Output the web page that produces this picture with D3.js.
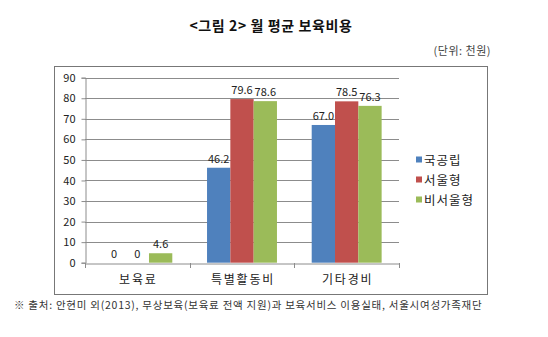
<!DOCTYPE html>
<html><head><meta charset="utf-8">
<script src="https://cdn.jsdelivr.net/npm/d3@7"></script>
<style>body{margin:0;background:#fff;}svg{display:block;}</style>
</head><body>
<script>
const categories = ["보육료", "특별활동비", "기타경비"];
const seriesNames = ["국공립", "서울형", "비서울형"];
const seriesColors = ["#4F81BD", "#C0504D", "#9BBB59"];
const publicVals = [0, 46.2, 67.0];
const seoulVals = [0, 79.6, 78.5];
const nonSeoulVals = [4.6, 78.6, 76.3];
const valueLabels = [["0", "46.2", "67.0"], ["0", "79.6", "78.5"], ["4.6", "78.6", "76.3"]];
const yTicks = [0, 10, 20, 30, 40, 50, 60, 70, 80, 90];
const titleText = "<그림 2> 월 평균 보육비용";
const unitText = "(단위: 천원)";
const sourceText = "※ 출처: 안현미 외(2013), 무상보육(보육료 전액 지원)과 보육서비스 이용실태, 서울시여성가족재단";

const series = [publicVals, seoulVals, nonSeoulVals];
const W = 548, H = 337;
const font = "'Noto Sans CJK KR', 'Noto Sans', sans-serif";
const svg = d3.select("body").append("svg").attr("width", W).attr("height", H);

// title
svg.append("text").attr("x", 271).attr("y", 31).attr("text-anchor", "middle")
  .attr("font-family", font).attr("font-weight", "bold").attr("font-size", 14).attr("letter-spacing", 0.6).attr("fill", "#111")
  .text(titleText);
svg.append("text").attr("x", 491).attr("y", 55).attr("text-anchor", "end")
  .attr("font-family", font).attr("font-size", 11).attr("letter-spacing", 0.5).attr("fill", "#444")
  .text(unitText);

// frame
svg.append("rect").attr("x", 54.5).attr("y", 66.5).attr("width", 433).attr("height", 228)
  .attr("fill", "#fff").attr("stroke", "#777").attr("stroke-width", 1);

const x0 = d3.scaleBand().domain(categories).range([85, 399]).paddingInner(0).paddingOuter(0);
const x1 = d3.scaleBand().domain(d3.range(3)).range([0, x0.bandwidth()]).paddingInner(0).paddingOuter(0.745);
const y = d3.scaleLinear().domain([0, 90]).range([262.7, 77.7]);

// gridlines
svg.append("g").selectAll("line").data(yTicks.filter(d => d > 0)).join("line")
  .attr("x1", 85).attr("x2", 399)
  .attr("y1", d => Math.round(y(d)) + 0.5).attr("y2", d => Math.round(y(d)) + 0.5)
  .attr("stroke", "#8c8c8c").attr("stroke-width", 1);

// y axis
const yAxis = svg.append("g").attr("transform", "translate(85.5,0)")
  .call(d3.axisLeft(y).tickValues(yTicks).tickSize(4).tickPadding(6));
yAxis.select(".domain").attr("stroke", "#8c8c8c");
yAxis.selectAll(".tick line").attr("stroke", "#8c8c8c");
yAxis.selectAll(".tick text").attr("font-family", font).attr("font-size", 11).attr("fill", "#222");

// bars
categories.forEach((c, ci) => {
  series.forEach((s, si) => {
    const v = s[ci];
    const bx = x0(c) + x1(si);
    if (v > 0) {
      svg.append("rect").attr("x", bx).attr("y", y(v)).attr("width", x1.bandwidth())
        .attr("height", y(0) - y(v)).attr("fill", seriesColors[si]);
    }
    svg.append("text").attr("x", bx + x1.bandwidth() / 2).attr("y", y(v) - 5)
      .attr("text-anchor", "middle").attr("font-family", font).attr("font-size", 11).attr("fill", "#222")
      .text(valueLabels[si][ci]);
  });
});

// x axis
const xAxis = svg.append("g").attr("transform", `translate(0,${Math.round(y(0)) + 0.5})`)
  .call(d3.axisBottom(x0).tickSize(0).tickPadding(12));
xAxis.select(".domain").attr("stroke", "#8c8c8c");
xAxis.selectAll(".tick text").attr("font-family", font).attr("font-size", 12).attr("letter-spacing", 1.8).attr("dx", 1).attr("fill", "#222");
svg.append("g").selectAll("line").data([85, 85 + x0.bandwidth(), 85 + 2 * x0.bandwidth(), 399]).join("line")
  .attr("x1", d => Math.round(d) + 0.5).attr("x2", d => Math.round(d) + 0.5)
  .attr("y1", Math.round(y(0))).attr("y2", Math.round(y(0)) + 5)
  .attr("stroke", "#8c8c8c");

// legend
const lg = svg.append("g");
seriesNames.forEach((n, i) => {
  const cy = 160 + i * 20;
  lg.append("rect").attr("x", 416).attr("y", cy - 3.5).attr("width", 6).attr("height", 6).attr("fill", seriesColors[i]);
  lg.append("text").attr("x", 424).attr("y", cy + 4.5).attr("font-family", font).attr("font-size", 12.5).attr("letter-spacing", 1).attr("fill", "#222").text(n);
});

// source
svg.append("text").attr("x", 14).attr("y", 309)
  .attr("font-family", font).attr("font-size", 10.5).attr("letter-spacing", 0.75).attr("fill", "#333")
  .text(sourceText);
</script>
</body></html>
